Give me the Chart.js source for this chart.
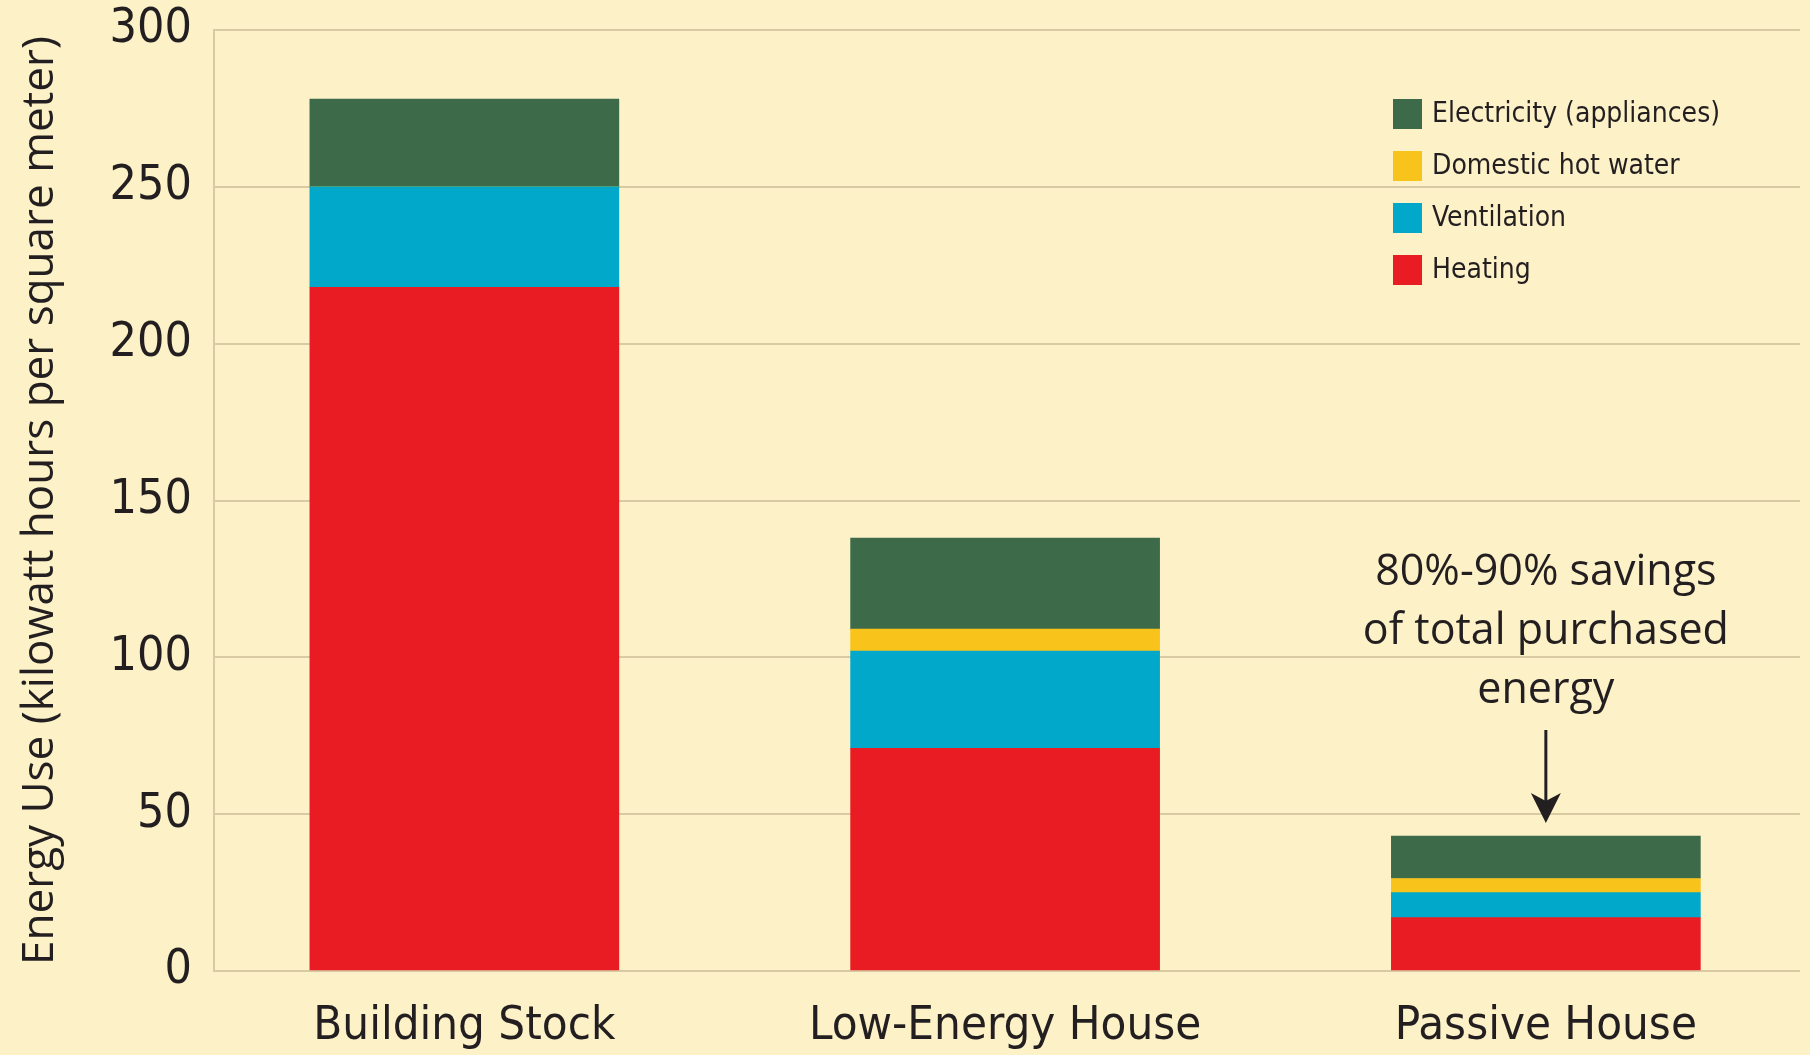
<!DOCTYPE html>
<html><head><meta charset="utf-8">
<script src="https://cdn.jsdelivr.net/npm/chart.js@4"></script>
<style>html,body{margin:0;padding:0;background:#FDF1C8;overflow:hidden}</style>
</head><body>
<canvas id="c" width="1810" height="1055"></canvas>
<script>
const categories = ["Building Stock", "Low-Energy House", "Passive House"];
const seriesNames = ["Heating", "Ventilation", "Domestic hot water", "Electricity (appliances)"];
const heating = [218, 71, 17];
const ventilation = [32, 31, 8];
const hotWater = [0, 7, 4.5];
const electricity = [28, 29, 13.5];
const yTicks = [0, 50, 100, 150, 200, 250, 300];
const yTitle = "Energy Use (kilowatt hours per square meter)";
const annotationLines = ["80%-90% savings", "of total purchased", "energy"];

const colors = ["#E91C24", "#02A8CA", "#F8C31A", "#3D6B4A"];
const series = [heating, ventilation, hotWater, electricity];
const narrow = "'Liberation Sans Narrow','DejaVu Sans Condensed',sans-serif";
const regular = "'Open Sans','Noto Sans',sans-serif";
const ink = "#231F20";
const gridCol = "#D9CAA4";

const bgPlugin = {
  id: 'bg',
  beforeDraw(chart) {
    const ctx = chart.ctx;
    ctx.save();
    ctx.fillStyle = '#FDF1C8';
    ctx.fillRect(0, 0, chart.width, chart.height);
    ctx.restore();
  }
};

const legendPlugin = {
  id: 'customLegend',
  afterDraw(chart) {
    const ctx = chart.ctx;
    const ds = chart.data.datasets.slice().reverse();
    ctx.save();
    ctx.font = "28px " + narrow;
    ctx.textBaseline = 'middle';
    ds.forEach((d, i) => {
      const cy = 114 + i * 52;
      ctx.fillStyle = d.backgroundColor;
      ctx.fillRect(1393, cy - 15, 29, 30);
      ctx.fillStyle = ink;
      ctx.fillText(d.label, 1432, cy + 1);
    });
    ctx.restore();
  }
};

const annotationPlugin = {
  id: 'annot',
  afterDraw(chart) {
    const ctx = chart.ctx;
    const xs = chart.scales.x;
    const cx = xs.getPixelForValue(2);
    ctx.save();
    ctx.font = "43px " + regular;
    ctx.fillStyle = ink;
    ctx.textAlign = 'center';
    ctx.textBaseline = 'middle';
    annotationLines.forEach((t, i) => {
      ctx.fillText(t, cx, 573 + i * 59);
    });
    const y0 = 730, y1 = 823;
    ctx.strokeStyle = ink;
    ctx.lineWidth = 3;
    ctx.beginPath();
    ctx.moveTo(cx, y0);
    ctx.lineTo(cx, y1 - 20);
    ctx.stroke();
    ctx.beginPath();
    ctx.moveTo(cx - 15, y1 - 30);
    ctx.lineTo(cx, y1 - 22);
    ctx.lineTo(cx + 15, y1 - 30);
    ctx.lineTo(cx, y1);
    ctx.closePath();
    ctx.fill();
    ctx.restore();
  }
};

new Chart(document.getElementById('c'), {
  type: 'bar',
  data: {
    datasets: series.map((arr, k) => ({
      label: seriesNames[k],
      data: arr.map((v, i) => ({ x: i, y: v })),
      backgroundColor: colors[k],
      borderWidth: 0,
      barThickness: 309
    }))
  },
  options: {
    responsive: false,
    animation: false,
    devicePixelRatio: 1,
    layout: { padding: { top: 30, right: 10, left: 0, bottom: 0 } },
    plugins: { legend: { display: false }, tooltip: { enabled: false } },
    scales: {
      x: {
        type: 'linear',
        offset: false,
        stacked: true,
        min: -0.463,
        max: 2.47,
        afterBuildTicks: s => { s.ticks = categories.map((c, i) => ({ value: i })); },
        afterFit: s => { s.height = 84; s.paddingLeft = 0; s.paddingRight = 0; },
        ticks: {
          callback: v => categories[v],
          font: { family: narrow, size: 47 },
          color: ink,
          padding: 20,
          maxRotation: 0,
          autoSkip: false
        },
        grid: { display: false, offset: false },
        border: { display: false }
      },
      y: {
        stacked: true,
        min: 0,
        max: 300,
        afterBuildTicks: s => { s.ticks = yTicks.map(v => ({ value: v })); },
        afterFit: s => { s.width = 214; s.paddingTop = 0; s.paddingBottom = 0; },
        ticks: {
          font: { family: narrow, size: 48 },
          color: ink,
          padding: 22
        },
        grid: { color: gridCol, lineWidth: 2, drawTicks: false },
        border: { display: true, color: gridCol, width: 2 },
        title: {
          display: true,
          text: yTitle,
          font: { family: regular, size: 44 },
          color: ink,
          padding: { top: 14, bottom: 0 }
        }
      }
    }
  },
  plugins: [bgPlugin, legendPlugin, annotationPlugin]
});
</script>
</body></html>
